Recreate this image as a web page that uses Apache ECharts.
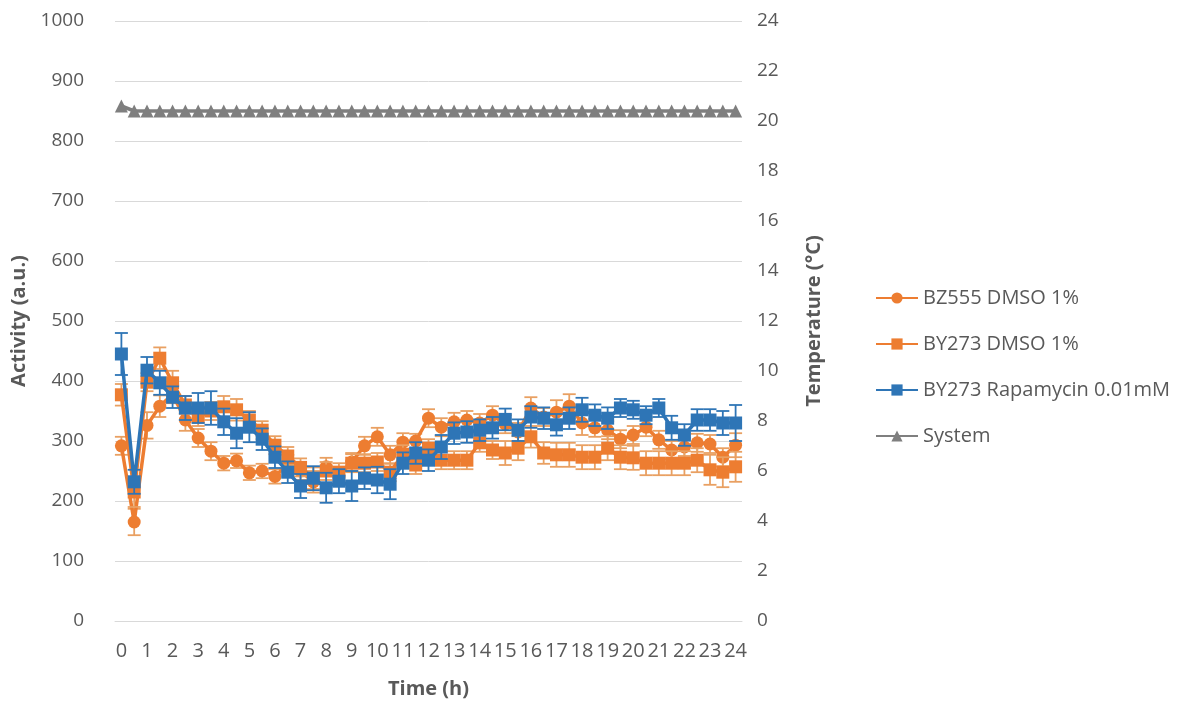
<!DOCTYPE html>
<html>
<head>
<meta charset="utf-8">
<script src="https://cdn.jsdelivr.net/npm/echarts@6/dist/echarts.min.js"></script>
<style>
html,body{margin:0;padding:0;background:#fff;}
#chart{width:1197px;height:706px;}
</style>
</head>
<body>
<div id="chart"></div>
<script>
const categories = ['0','0.5','1','1.5','2','2.5','3','3.5','4','4.5','5','5.5','6','6.5','7','7.5','8','8.5','9','9.5','10','10.5','11','11.5','12','12.5','13','13.5','14','14.5','15','15.5','16','16.5','17','17.5','18','18.5','19','19.5','20','20.5','21','21.5','22','22.5','23','23.5','24'];

const bz555Dmso = [292,165,326,358,378,335,305,283,263,267,247,250,241,262,250,232,257,242,265,292,307,277,298,300,338,323,332,335,330,343,328,315,355,340,348,358,330,322,318,303,310,323,302,285,290,297,295,273,293];
const bz555DmsoErr = [15,22,22,18,15,18,15,15,12,12,12,12,12,15,15,18,15,15,15,15,15,15,15,12,15,15,15,15,15,15,15,15,18,15,20,20,20,15,15,15,15,15,15,15,15,15,15,15,20];

const by273Dmso = [377,215,398,438,397,360,340,350,357,352,335,318,293,275,256,238,250,248,263,263,265,248,278,260,288,268,268,268,297,285,280,288,307,280,277,277,273,273,288,273,272,263,263,263,263,268,252,248,257];
const by273DmsoErr = [18,25,15,18,20,15,15,15,18,18,15,15,15,15,15,18,15,15,15,15,15,15,15,15,15,15,15,15,15,15,20,20,18,18,20,20,20,20,20,20,20,20,20,20,20,20,25,25,25];

const by273Rapa = [445,232,418,397,373,355,355,355,332,313,323,303,273,248,225,238,222,233,225,238,235,228,263,280,268,290,313,315,318,322,336,318,340,338,327,338,352,343,338,355,352,343,355,322,310,335,335,330,330];
const by273RapaErr = [35,20,22,20,18,20,25,28,22,25,25,18,18,18,20,20,25,20,25,18,22,25,18,18,18,20,18,18,18,18,18,18,18,18,18,18,20,18,18,15,15,15,15,20,18,18,18,20,30];

const systemTemp = [20.6,20.4,20.4,20.4,20.4,20.4,20.4,20.4,20.4,20.4,20.4,20.4,20.4,20.4,20.4,20.4,20.4,20.4,20.4,20.4,20.4,20.4,20.4,20.4,20.4,20.4,20.4,20.4,20.4,20.4,20.4,20.4,20.4,20.4,20.4,20.4,20.4,20.4,20.4,20.4,20.4,20.4,20.4,20.4,20.4,20.4,20.4,20.4,20.4];

const seriesNames = ['BZ555 DMSO 1%','BY273 DMSO 1%','BY273 Rapamycin 0.01mM','System'];

const ORANGE = '#ED7D31';
const ORANGE_ERR = '#E9A062';
const BLUE = '#2E75B6';
const GRAY = '#7F7F7F';
const TXT = '#595959';
const FONT = 'Open Sans';

function errData(vals, errs){
  return vals.map((v,i)=>[i, v, errs[i]]);
}
function errSeries(vals, errs, color, z){
  return {
    type:'custom',
    xAxisIndex:0, yAxisIndex:0,
    z:z, silent:true,
    encode:{x:0, y:1},
    data: errData(vals, errs),
    renderItem: function(params, api){
      const x = api.value(0), v = api.value(1), e = api.value(2);
      const hi = api.coord([x, v+e]);
      const lo = api.coord([x, v-e]);
      const hw = 6.5;
      const st = {stroke:color, lineWidth:1.8};
      return {type:'group', children:[
        {type:'line', shape:{x1:hi[0],y1:hi[1],x2:lo[0],y2:lo[1]}, style:st},
        {type:'line', shape:{x1:hi[0]-hw,y1:hi[1],x2:hi[0]+hw,y2:hi[1]}, style:st},
        {type:'line', shape:{x1:lo[0]-hw,y1:lo[1],x2:lo[0]+hw,y2:lo[1]}, style:st}
      ]};
    }
  };
}

const chart = echarts.init(document.getElementById('chart'), null, {renderer:'canvas'});
chart.setOption({
  animation:false,
  backgroundColor:'#fff',
  textStyle:{fontFamily:FONT},
  grid:{left:115, right:455, top:21, bottom:85, containLabel:false},
  legend:{
    data:seriesNames,
    orient:'vertical',
    left:870, top:282,
    itemWidth:42, itemHeight:14, itemGap:24,
    textStyle:{fontFamily:FONT, fontSize:20, color:TXT, lineHeight:22}
  },
  xAxis:{
    type:'category',
    data:categories,
    boundaryGap:true,
    axisLine:{lineStyle:{color:'#d9d9d9', width:1}},
    axisTick:{show:false},
    axisLabel:{interval:1, fontFamily:FONT, fontSize:20, color:TXT, margin:20},
    name:'Time (h)', nameLocation:'middle', nameGap:58,
    nameTextStyle:{fontFamily:FONT, fontSize:20, fontWeight:'bold', color:TXT}
  },
  yAxis:[{
    type:'value', min:0, max:1000, interval:100,
    axisLine:{show:false}, axisTick:{show:false},
    splitLine:{lineStyle:{color:'#d9d9d9', width:1}},
    axisLabel:{fontFamily:FONT, fontSize:19, color:TXT, margin:31, formatter:function(v){return String(v);}},
    name:'Activity (a.u.)', nameLocation:'middle', nameGap:78,
    nameTextStyle:{fontFamily:FONT, fontSize:20, fontWeight:'bold', color:TXT}
  },{
    type:'value', min:0, max:24, interval:2, position:'right',
    axisLine:{show:false}, axisTick:{show:false},
    splitLine:{show:false},
    axisLabel:{fontFamily:FONT, fontSize:19, color:TXT, margin:15},
    name:'Temperature (°C)', nameLocation:'middle', nameGap:62,
    nameTextStyle:{fontFamily:FONT, fontSize:20, fontWeight:'bold', color:TXT}
  }],
  series:[
    errSeries(bz555Dmso, bz555DmsoErr, ORANGE_ERR, 1),
    {
      name:seriesNames[0], type:'line', data:bz555Dmso, z:2,
      symbol:'circle', symbolSize:13, showAllSymbol:true,
      lineStyle:{color:ORANGE, width:3.5}, itemStyle:{color:ORANGE}
    },
    errSeries(by273Dmso, by273DmsoErr, ORANGE_ERR, 3),
    {
      name:seriesNames[1], type:'line', data:by273Dmso, z:4,
      symbol:'rect', symbolSize:13, showAllSymbol:true,
      lineStyle:{color:ORANGE, width:3.5}, itemStyle:{color:ORANGE}
    },
    errSeries(by273Rapa, by273RapaErr, BLUE, 5),
    {
      name:seriesNames[2], type:'line', data:by273Rapa, z:6,
      symbol:'rect', symbolSize:13, showAllSymbol:true,
      lineStyle:{color:BLUE, width:3.5}, itemStyle:{color:BLUE}
    },
    {
      name:seriesNames[3], type:'line', data:systemTemp, yAxisIndex:1, z:7,
      symbol:'triangle', symbolSize:13, showAllSymbol:true,
      lineStyle:{color:GRAY, width:3.5}, itemStyle:{color:GRAY}
    }
  ]
});
</script>
</body>
</html>
